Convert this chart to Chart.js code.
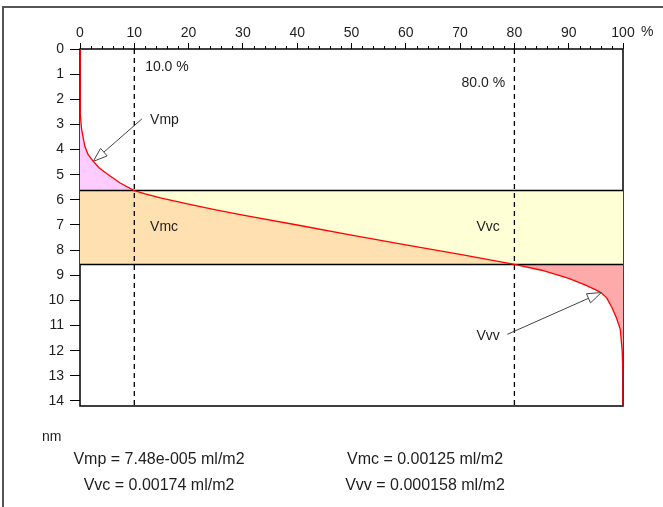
<!DOCTYPE html>
<html>
<head>
<meta charset="utf-8">
<script src="https://cdn.jsdelivr.net/npm/chart.js@4/dist/chart.umd.min.js"></script>
<style>
  html, body { margin: 0; background: #fff; }
</style>
</head>
<body>
<canvas id="chart-abbott" width="663" height="507"></canvas>
<script>
// bearing ratio (%) on x, depth (nm) on y
const xTicks = [0, 10, 20, 30, 40, 50, 60, 70, 80, 90, 100];
const yTicks = [0, 1, 2, 3, 4, 5, 6, 7, 8, 9, 10, 11, 12, 13, 14];

const curveX = [0, 0, 0.1, 0.3, 0.9, 1.5, 2.45, 3.5, 4.9, 7.4, 10,
                12, 15, 20, 25, 30, 40, 50, 60, 70, 80,
                85, 90, 93, 95, 96, 97, 98, 98.8, 99.5, 99.85, 100, 100];
const curveY = [0, 2.1, 2.6, 3.2, 3.88, 4.2, 4.47, 4.72, 4.95, 5.33, 5.63,
                5.76, 5.93, 6.17, 6.4, 6.61, 7.0, 7.4, 7.79, 8.17, 8.57,
                8.8, 9.12, 9.38, 9.58, 9.7, 9.9, 10.3, 10.7, 11.15, 12.0, 13.0, 14.2];

const mrLeft = 10;       // %
const mrRight = 80;      // %
const coreTop = 5.63;    // nm
const coreBottom = 8.57; // nm
const depthMax = 14.2;

const results = [
  'Vmp = 7.48e-005 ml/m2',
  'Vmc = 0.00125 ml/m2',
  'Vvc = 0.00174 ml/m2',
  'Vvv = 0.000158 ml/m2'
];

const curve = curveX.map((x, i) => ({ x, y: curveY[i] }));
const upper = curve.filter(p => p.y <= coreTop);
const core = curve.filter(p => p.y >= coreTop && p.y <= coreBottom);
const lower = curve.filter(p => p.y >= coreBottom);

const FONT = 'Liberation Sans, Arial, sans-serif';
const TXT = '#1e1e1e';

function area(points, color) {
  return {
    data: points, fill: 'shape', backgroundColor: color,
    borderWidth: 0, pointRadius: 0, order: 3
  };
}
function rule(points, dash) {
  return {
    data: points, fill: false, borderColor: '#000', borderWidth: dash ? 1.3 : 1.5,
    borderDash: dash ? [5, 4] : [], pointRadius: 0, order: 1
  };
}

const deco = {
  id: 'deco',
  beforeDatasetsDraw(chart) {
    const { ctx, chartArea: a } = chart;
    ctx.save();
    ctx.strokeStyle = '#000';
    ctx.lineWidth = 1.5;
    ctx.strokeRect(a.left, a.top, a.right - a.left, a.bottom - a.top);
    ctx.restore();
  },
  afterDatasetsDraw(chart) {
    const { ctx, chartArea: a, scales: { x, y } } = chart;
    ctx.save();

    // outer frame
    ctx.strokeStyle = '#555';
    ctx.lineWidth = 2;
    ctx.beginPath();
    ctx.moveTo(3, 507); ctx.lineTo(3, 7); ctx.lineTo(663, 7);
    ctx.stroke();

    // minor ticks on the top axis
    ctx.strokeStyle = '#000';
    ctx.lineWidth = 1;
    ctx.beginPath();
    for (let v = 2; v < 100; v += 2) {
      if (v % 10 === 0) continue;
      const px = Math.round(x.getPixelForValue(v)) + 0.5;
      ctx.moveTo(px, a.top); ctx.lineTo(px, a.top - 3);
    }
    ctx.stroke();

    ctx.fillStyle = TXT;
    ctx.font = '14px ' + FONT;
    ctx.textBaseline = 'middle';
    ctx.textAlign = 'left';
    ctx.fillText('%', x.getPixelForValue(100) + 18, 32);

    const label = (t, vx, vy, align) => {
      ctx.textAlign = align;
      ctx.fillText(t, x.getPixelForValue(vx), y.getPixelForValue(vy));
    };
    label(mrLeft.toFixed(1) + ' %', 12, 0.71, 'left');
    label(mrRight.toFixed(1) + ' %', 78.3, 1.35, 'right');
    label('Vmp', 12.9, 2.82, 'left');
    label('Vmc', 12.9, 7.1, 'left');
    label('Vvc', 77.3, 7.1, 'right');
    label('Vvv', 77.3, 11.43, 'right');

    // arrows
    const arrow = (x0, y0, x1, y1) => {
      const p0 = [x.getPixelForValue(x0), y.getPixelForValue(y0)];
      const p1 = [x.getPixelForValue(x1), y.getPixelForValue(y1)];
      const ang = Math.atan2(p1[1] - p0[1], p1[0] - p0[0]);
      const len = 14, hw = 5;
      const bx = p1[0] - Math.cos(ang) * len, by = p1[1] - Math.sin(ang) * len;
      ctx.strokeStyle = '#444';
      ctx.lineWidth = 1;
      ctx.beginPath();
      ctx.moveTo(p0[0], p0[1]); ctx.lineTo(bx, by);
      ctx.stroke();
      ctx.beginPath();
      ctx.moveTo(p1[0], p1[1]);
      ctx.lineTo(bx + Math.sin(ang) * hw, by - Math.cos(ang) * hw);
      ctx.lineTo(bx - Math.sin(ang) * hw, by + Math.cos(ang) * hw);
      ctx.closePath();
      ctx.fillStyle = '#fff';
      ctx.fill();
      ctx.stroke();
    };
    arrow(11.4, 2.78, 2.45, 4.47);
    arrow(78.7, 11.35, 96.0, 9.69);

    // unit and results
    ctx.fillStyle = TXT;
    ctx.textAlign = 'left';
    ctx.font = '14px ' + FONT;
    ctx.fillText('nm', 42, 437);
    ctx.font = '16px ' + FONT;
    ctx.textAlign = 'center';
    ctx.fillText(results[0], 159, 460);
    ctx.fillText(results[1], 425, 460);
    ctx.fillText(results[2], 159, 486);
    ctx.fillText(results[3], 425, 486);
    ctx.restore();
  }
};

new Chart(document.getElementById('chart-abbott'), {
  type: 'line',
  data: {
    datasets: [
      {
        data: curve, borderColor: '#ff0000', borderWidth: 1.3,
        fill: false, pointRadius: 0, order: 0
      },
      rule([{ x: mrLeft, y: 0 }, { x: mrLeft, y: depthMax }], true),
      rule([{ x: mrRight, y: 0 }, { x: mrRight, y: depthMax }], true),
      rule([{ x: 0, y: coreTop }, { x: 100, y: coreTop }], false),
      rule([{ x: 0, y: coreBottom }, { x: 100, y: coreBottom }], false),
      area([...upper, { x: 0, y: coreTop }], '#ffccff'),
      area([...core, { x: 0, y: coreBottom }, { x: 0, y: coreTop }], '#ffe0b0'),
      area([...core, { x: 100, y: coreBottom }, { x: 100, y: coreTop }], '#ffffd6'),
      area([...lower, { x: 100, y: coreBottom }], '#ffaaaa')
    ]
  },
  options: {
    responsive: false,
    animation: false,
    devicePixelRatio: 1,
    layout: { padding: { left: 0, top: 0, right: 40, bottom: 101 } },
    plugins: {
      legend: { display: false },
      tooltip: { enabled: false }
    },
    scales: {
      x: {
        type: 'linear', position: 'top', min: 0, max: 100,
        afterBuildTicks: s => { s.ticks = xTicks.map(v => ({ value: v })); },
        afterFit: s => { s.height = 49; },
        border: { display: false },
        grid: { drawOnChartArea: false, tickLength: 6, color: '#000' },
        ticks: { color: TXT, font: { family: FONT, size: 14 }, padding: 1, maxRotation: 0 }
      },
      y: {
        type: 'linear', reverse: true, min: 0, max: depthMax,
        afterBuildTicks: s => { s.ticks = yTicks.map(v => ({ value: v })); },
        afterFit: s => { s.width = 80; },
        border: { display: false },
        grid: { drawOnChartArea: false, tickLength: 10, color: '#000' },
        ticks: { color: TXT, font: { family: FONT, size: 14 }, padding: 6 }
      }
    }
  },
  plugins: [deco]
});
</script>
</body>
</html>
